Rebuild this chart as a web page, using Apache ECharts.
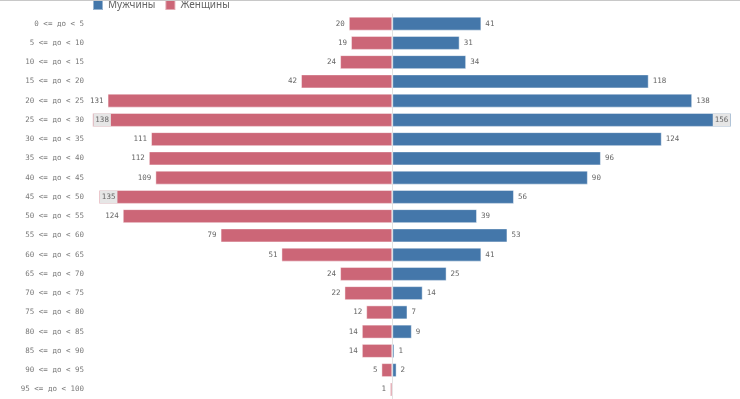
<!DOCTYPE html>
<html>
<head>
<meta charset="utf-8">
<script src="https://cdn.jsdelivr.net/npm/echarts@6/dist/echarts.min.js"></script>
<style>
  html, body { margin: 0; padding: 0; background: #fff; }
  #main { width: 740px; height: 398px; border-top: 1px solid #c8c8c8; }
</style>
</head>
<body>
<div id="main"></div>
<script>
// возрастные группы сверху вниз
var categories = ['0 <= до < 5', '5 <= до < 10', '10 <= до < 15', '15 <= до < 20', '20 <= до < 25',
    '25 <= до < 30', '30 <= до < 35', '35 <= до < 40', '40 <= до < 45', '45 <= до < 50',
    '50 <= до < 55', '55 <= до < 60', '60 <= до < 65', '65 <= до < 70', '70 <= до < 75',
    '75 <= до < 80', '80 <= до < 85', '85 <= до < 90', '90 <= до < 95', '95 <= до < 100'];
var men = [41, 31, 34, 118, 138, 156, 124, 96, 90, 56, 39, 53, 41, 25, 14, 7, 9, 1, 2, 0];
var women = [20, 19, 24, 42, 131, 138, 111, 112, 109, 135, 124, 79, 51, 24, 22, 12, 14, 14, 5, 1];

var axisMin = -140, axisMax = 160;
var labelFont = 'DejaVu Sans Mono';

// если подпись не помещается снаружи - кладём её внутрь столбика
function buildData(values, sign, limit, inside) {
    return values.map(function (v) {
        if (!v) return '-';
        var item = { value: sign * v };
        if (v >= limit - 7) {
            item.label = {
                position: inside,
                distance: 1,
                backgroundColor: '#e6e6e6',
                padding: [3, 2, 2, 2]
            };
        }
        return item;
    });
}

var myChart = echarts.init(document.getElementById('main'));

var option = {
    animation: false,
    legend: {
        top: -7,
        left: 87,
        itemWidth: 10,
        itemHeight: 10,
        itemGap: 9,
        icon: 'rect',
        textStyle: { color: '#666', fontSize: 10, fontFamily: 'Noto Sans' },
        data: ['Мужчины', 'Женщины']
    },
    grid: { left: 88, right: 0, top: 13, bottom: 0, containLabel: false },
    xAxis: {
        type: 'value',
        min: axisMin,
        max: axisMax,
        show: false
    },
    yAxis: {
        type: 'category',
        inverse: true,
        data: categories,
        axisLine: { show: true, lineStyle: { color: '#e2e2e2' } },
        axisTick: { show: false },
        axisLabel: { color: '#7a7a7a', fontSize: 7.5, fontFamily: labelFont, margin: 4 }
    },
    series: [
        {
            name: 'Мужчины',
            type: 'bar',
            barWidth: 14,
            barGap: '-100%',
            itemStyle: { color: '#4477aa', borderColor: 'rgba(255,255,255,0.45)', borderWidth: 1 },
            label: {
                show: true,
                position: 'right',
                distance: 4,
                color: '#666',
                fontSize: 7.5,
                fontFamily: labelFont
            },
            data: buildData(men, 1, axisMax, 'insideRight')
        },
        {
            name: 'Женщины',
            type: 'bar',
            barWidth: 14,
            barGap: '-100%',
            itemStyle: { color: '#cc6677', borderColor: 'rgba(255,255,255,0.45)', borderWidth: 1 },
            label: {
                show: true,
                position: 'left',
                distance: 4,
                color: '#666',
                fontSize: 7.5,
                fontFamily: labelFont,
                formatter: function (p) { return Math.abs(p.value); }
            },
            data: buildData(women, -1, -axisMin, 'insideLeft')
        }
    ]
};

option && myChart.setOption(option);
</script>
</body>
</html>
